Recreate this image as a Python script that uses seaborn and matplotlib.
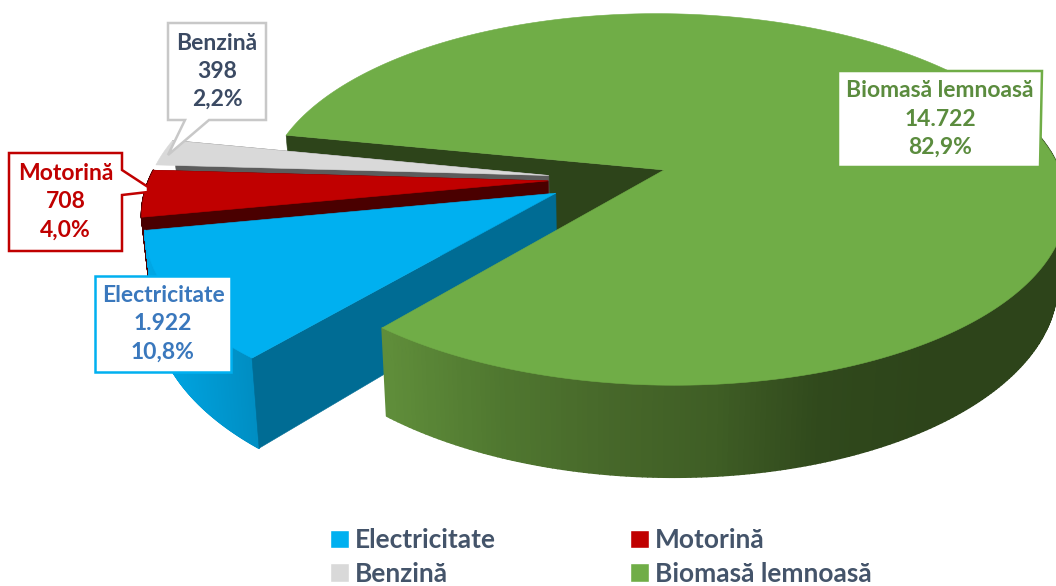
import numpy as np
import matplotlib
matplotlib.use("Agg")
import matplotlib.pyplot as plt
import seaborn as sns
from matplotlib.collections import PolyCollection
from matplotlib.patches import Patch, Polygon

categories = ["Electricitate", "Motorină", "Benzină", "Biomasă lemnoasă"]
values = [1922, 708, 398, 14722]

top_colors = ["#00B0F0", "#C00000", "#D9D9D9", "#70AD47"]
wall_colors = ["#006C94", "#4A0000", "#5C5C5C", "#2D441A"]
label_colors = ["#3A78BD", "#C00000", "#3B4A63", "#5B8C3E"]

sns.set_theme(style="white")
plt.rcParams["font.family"] = ["Lato", "DejaVu Sans"]
plt.rcParams["font.weight"] = "bold"

fig, ax = plt.subplots(figsize=(10.56, 5.86), dpi=100)
ax.set_position([0, 0, 1, 1])
ax.set_xlim(0, 1056)
ax.set_ylim(586, 0)
ax.axis("off")

# pie geometry, in pixels
cx, cy = 608, 179
rx, ry = 399, 184
persp = 0.16
depth = 78
lean = 0.02
explode = 0.15
first_angle = 230.0

shares = np.array(values) / sum(values)
ends = first_angle - np.cumsum(shares) * 360
starts = ends + shares * 360
mids = (starts + ends) / 2


def project(i, t, z=0.0, r=1.0):
    # t in degrees on the slice circle, z=1 is the underside
    t = np.radians(t)
    m = np.radians(mids[i])
    X = explode * np.cos(m) + r * np.cos(t)
    Y = explode * np.sin(m) + r * np.sin(t)
    w = 1 + persp * Y
    return np.column_stack([cx + rx * X / w * (1 - lean * z), cy - ry * Y / w + z * depth / w])


def top_face(i, zorder):
    arc = project(i, np.linspace(ends[i], starts[i], 300))
    apex = project(i, np.array([0.0]), r=0.0)
    ax.add_patch(Polygon(np.vstack([apex, arc]), closed=True, fc=top_colors[i], ec=top_colors[i], lw=0.4, zorder=zorder))


def wall(i, angle, zorder):
    a = project(i, np.array([angle]), r=0.0)
    b = project(i, np.array([angle]))
    c = project(i, np.array([angle]), z=1.0)
    d = project(i, np.array([angle]), z=1.0, r=0.0)
    ax.add_patch(Polygon(np.vstack([a, b, c, d]), closed=True, fc=wall_colors[i], ec=wall_colors[i], lw=0.4, zorder=zorder))


def rim(i, t0, t1, ramp, x0, x1, zorder):
    t = np.linspace(t0, t1, 240)
    up = project(i, t)
    lo = project(i, t, z=1.0)
    quads = [[up[j], up[j + 1], lo[j + 1], lo[j]] for j in range(len(t) - 1)]
    cmap = sns.blend_palette(ramp, as_cmap=True)
    colors = cmap(np.clip((up[:-1, 0] - x0) / (x1 - x0), 0, 1))
    ax.add_collection(PolyCollection(quads, facecolors=colors, edgecolors=colors, linewidths=1.2, zorder=zorder))


# back to front: green inner wall, grey, red, blue, then the rest of the green
wall(3, starts[3], 1)
wall(2, ends[2], 2)
top_face(2, 3)
rim(1, ends[1], starts[1], ["#4A0000", "#4A0000"], 140, 160, 3)
wall(1, ends[1], 4)
top_face(1, 5)
rim(0, ends[0], starts[0], ["#00A8E6", "#008CC0"], 147, 260, 6)
wall(0, starts[0], 6)
top_face(0, 7)
green_ramp = ["#5F8D3A", "#507830", "#47682A", "#3F5E25", "#30491C", "#2D441A", "#2D441A"]
rim(3, ends[3], ends[3] + 160, green_ramp, 385, 1040, 8)
top_face(3, 9)

# data labels with their callout outlines
boxes = [
    [(95, 276), (231, 276), (231, 372), (95, 372)],
    [(9, 153), (122, 153), (122, 170), (148, 187), (148, 192), (122, 195), (122, 251), (9, 251)],
    [(168, 23), (266, 23), (266, 120), (209, 120), (168, 155), (185, 120), (168, 120)],
    [(838, 71), (1042, 71), (1040, 167), (838, 167)],
]
for i, box in enumerate(boxes):
    ax.add_patch(Polygon(box, closed=True, fc="white", ec=top_colors[i] if i != 2 else "#C8C8C8", lw=1.8, zorder=12))
    mid_x = (box[0][0] + box[1][0]) / 2
    mid_y = (box[0][1] + box[-1][1]) / 2
    label = "{}\n{}\n{}%".format(categories[i], f"{values[i]:,}".replace(",", "."), f"{shares[i] * 100:.1f}".replace(".", ","))
    ax.text(mid_x, mid_y, label, ha="center", va="center", ma="center", fontsize=16.5, color=label_colors[i], linespacing=1.42, zorder=13)

order = [0, 2, 1, 3]
handles = [Patch(fc=top_colors[i], label=categories[i]) for i in order]
ax.legend(handles=handles, ncol=2, frameon=False, loc="center", bbox_to_anchor=(601, 557), bbox_transform=ax.transData,
          prop={"size": 18.9, "weight": "bold"}, labelcolor="#44546A", handlelength=0.72, handleheight=0.72,
          handletextpad=0.24, columnspacing=5.1, labelspacing=0.36)

fig.savefig("out.png", dpi=100)
